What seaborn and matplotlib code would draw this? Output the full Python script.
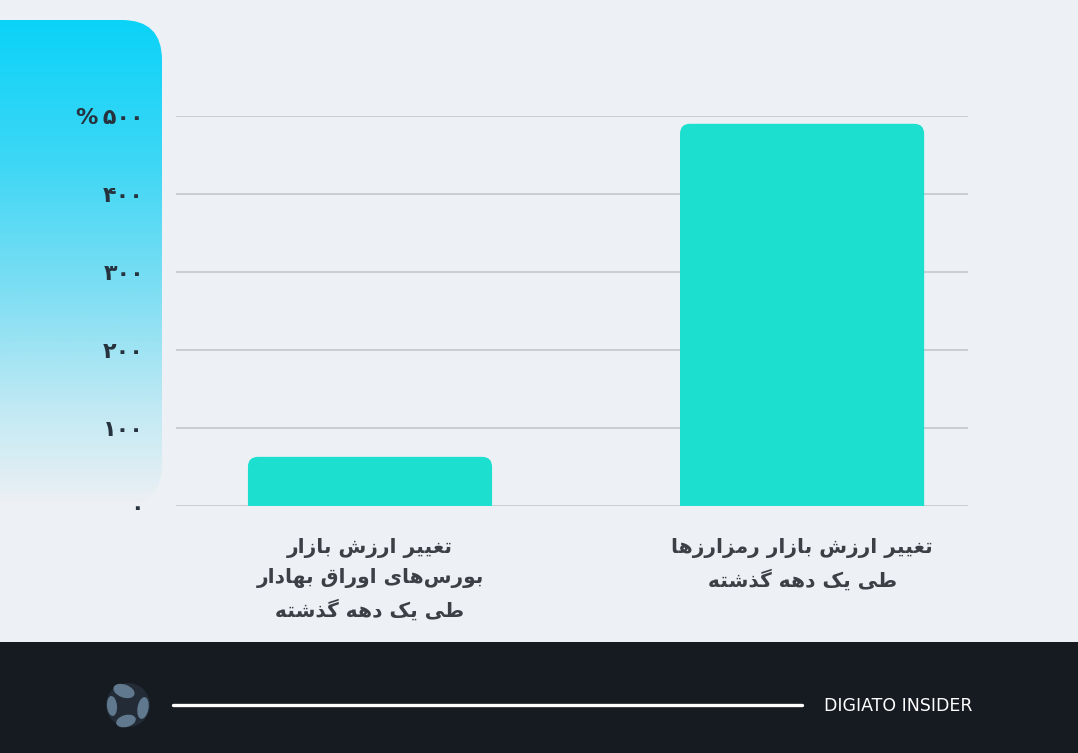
import numpy as np
import pandas as pd
import matplotlib
matplotlib.use("Agg")
import matplotlib.pyplot as plt
import seaborn as sns
from matplotlib.patches import FancyBboxPatch, Circle, Ellipse, Rectangle
from matplotlib.colors import LinearSegmentedColormap

# ---------------- data ----------------
categories = [
    "تغییر ارزش بازار\nبورس\u200cهای اوراق بهادار\nطی یک دهه گذشته",
    "تغییر ارزش بازار رمزارزها\nطی یک دهه گذشته",
]
values = [63, 490]
tick_values = [0, 100, 200, 300, 400, 500]
tick_labels = ["۰", "۱۰۰", "۲۰۰", "۳۰۰", "۴۰۰", "%\u2009۵۰۰"]
brand = "DIGIATO INSIDER"

# ------------- minimal Persian shaping (presentation forms + RTL) -------------
FORMS = {
    'ا': ('\uFE8D', '\uFE8E', None, None),
    'ب': ('\uFE8F', '\uFE90', '\uFE91', '\uFE92'),
    'ت': ('\uFE95', '\uFE96', '\uFE97', '\uFE98'),
    'د': ('\uFEA9', '\uFEAA', None, None),
    'ذ': ('\uFEAB', '\uFEAC', None, None),
    'ر': ('\uFEAD', '\uFEAE', None, None),
    'ز': ('\uFEAF', '\uFEB0', None, None),
    'س': ('\uFEB1', '\uFEB2', '\uFEB3', '\uFEB4'),
    'ش': ('\uFEB5', '\uFEB6', '\uFEB7', '\uFEB8'),
    'ط': ('\uFEC1', '\uFEC2', '\uFEC3', '\uFEC4'),
    'غ': ('\uFECD', '\uFECE', '\uFECF', '\uFED0'),
    'ق': ('\uFED5', '\uFED6', '\uFED7', '\uFED8'),
    'م': ('\uFEE1', '\uFEE2', '\uFEE3', '\uFEE4'),
    'ه': ('\uFEE9', '\uFEEA', '\uFEEB', '\uFEEC'),
    'و': ('\uFEED', '\uFEEE', None, None),
    'ی': ('\uFBFC', '\uFBFD', '\uFBFE', '\uFBFF'),
    'ک': ('\uFB8E', '\uFB8F', '\uFB90', '\uFB91'),
    'گ': ('\uFB92', '\uFB93', '\uFB94', '\uFB95'),
}


def shape_line(line):
    chars = list(line)
    out = []
    for i, c in enumerate(chars):
        if c == '\u200c':
            continue
        if c not in FORMS:
            out.append(c)
            continue
        prev = chars[i - 1] if i > 0 else None
        nxt = chars[i + 1] if i + 1 < len(chars) else None
        pj = prev in FORMS and FORMS[prev][2] is not None
        nj = FORMS[c][2] is not None and nxt in FORMS
        iso, fin, ini, med = FORMS[c]
        if pj and nj:
            out.append(med)
        elif pj:
            out.append(fin)
        elif nj:
            out.append(ini)
        else:
            out.append(iso)
    return ''.join(reversed(out))


def shape(text):
    return '\n'.join(shape_line(l) for l in text.split('\n'))


shaped_categories = [shape(c) for c in categories]
df = pd.DataFrame({"category": shaped_categories, "value": values})

# ---------------- figure ----------------
W, H = 1078, 753
BG = "#edf0f4"
fig = plt.figure(figsize=(W / 100, H / 100), dpi=100, facecolor=BG)

# background layer in pixel coordinates
bg = fig.add_axes([0, 0, 1, 1], zorder=0)
bg.set_xlim(0, W)
bg.set_ylim(H, 0)
bg.axis("off")

cmap = LinearSegmentedColormap.from_list(
    "panel",
    [(0.0, "#0ad3f8"), (0.3, "#3fd7f5"), (0.55, "#7cdef3"),
     (0.8, "#c0e9f3"), (1.0, BG)])
grad = np.linspace(0, 1, 256).reshape(-1, 1)
img = bg.imshow(grad, cmap=cmap, extent=(0, 162, 505, 20), aspect="auto",
                origin="upper", interpolation="bicubic", zorder=1)
clip = FancyBboxPatch((-60, 20), 222, 485,
                      boxstyle="round,pad=0,rounding_size=40",
                      transform=bg.transData, fc="none", ec="none")
bg.add_patch(clip)
img.set_clip_path(clip)

# footer
bg.add_patch(Rectangle((0, 642), W, H - 642, fc="#161a21", ec="none", zorder=2))
bg.plot([173, 802], [705, 705], color="white", lw=2.4,
        solid_capstyle="round", zorder=3)
bg.text(973, 706, brand, color="white", fontsize=12.5, ha="right",
        va="center", family="DejaVu Sans", zorder=3)
# logo
bg.add_patch(Circle((128, 705), 22, fc="#222b36", ec="none", zorder=3))
for (cx, cy, w, h, a) in [(124, 691, 22, 13, 20), (143, 708, 11, 22, 10),
                          (126, 721, 20, 12, -15), (112, 706, 10, 20, -5)]:
    bg.add_patch(Ellipse((cx, cy), w, h, angle=a, fc="#60798e", ec="none",
                         zorder=4))

# ---------------- main chart ----------------
ax = fig.add_axes([176 / W, (H - 506) / H, 792 / W, 390 / H], zorder=2)
ax.patch.set_alpha(0)

sns.barplot(data=df, x="category", y="value", color="#1ddfcf",
            saturation=1, width=0.565, ax=ax)

xlim = (-0.449, 1.384)
ylim = (0, 500)
ax.set_xlim(*xlim)
ax.set_ylim(*ylim)

# rounded top corners on bars
x_per_px = (xlim[1] - xlim[0]) / 792
y_per_px = (ylim[1] - ylim[0]) / 390
r = 10 * x_per_px
asp = y_per_px / x_per_px
for p in list(ax.patches):
    x, y, w, h = p.get_x(), p.get_y(), p.get_width(), p.get_height()
    fc = p.get_facecolor()
    p.remove()
    ax.add_patch(FancyBboxPatch((x, y - 30), w, h + 30,
                                boxstyle=f"round,pad=0,rounding_size={r}",
                                mutation_aspect=asp, fc=fc, ec="none",
                                zorder=3, clip_on=True))

ax.set_yticks(tick_values)
ax.set_yticklabels(tick_labels)
ax.set_axisbelow(True)
ax.yaxis.grid(True, color="#c7cbd1", lw=1.3)
ax.xaxis.grid(False)
for s in ax.spines.values():
    s.set_visible(False)
ax.tick_params(axis="both", length=0)
ax.tick_params(axis="y", pad=23, labelsize=16, labelcolor="#26323d")
ax.tick_params(axis="x", pad=23, labelsize=14.5, labelcolor="#3c3f46")
for t in ax.get_yticklabels():
    t.set_fontweight("bold")
    t.set_family("DejaVu Sans")
for t in ax.get_xticklabels():
    t.set_fontweight("bold")
    t.set_family("DejaVu Sans")
    t.set_linespacing(1.65)
    t.set_multialignment("center")
ax.set_xlabel("")
ax.set_ylabel("")

fig.savefig("out.png", dpi=100, facecolor=BG)
